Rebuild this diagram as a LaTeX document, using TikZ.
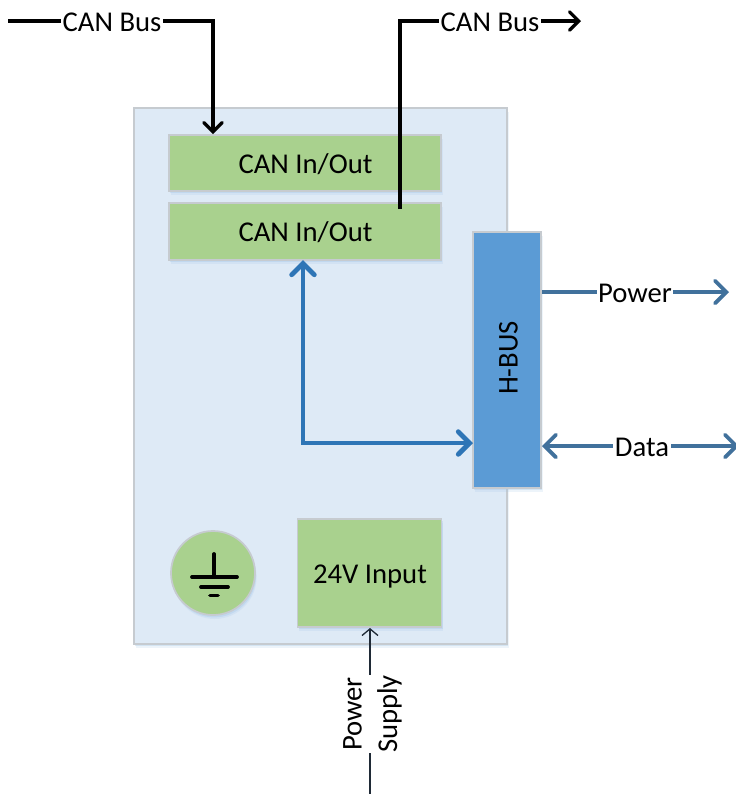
\documentclass[tikz,border=0pt]{standalone}
\usepackage{fontspec}
\setmainfont{Carlito}
\usetikzlibrary{arrows.meta,shadows,calc}
\definecolor{panelfill}{HTML}{DEEAF6}
\definecolor{edgegrey}{HTML}{C6CBD0}
\definecolor{greenfill}{HTML}{A9D18E}
\definecolor{busfill}{HTML}{5B9BD5}
\definecolor{shadowblue}{HTML}{9DC3E6}
\definecolor{linkblue}{HTML}{2E75B6}
\definecolor{outblue}{HTML}{41719C}
\definecolor{thinink}{HTML}{1F2A36}
\tikzset{
  x=0.75pt,y=-0.75pt,
  softshadow/.style={
    drop shadow={shadow xshift=1.2pt,shadow yshift=-3pt,fill=shadowblue,opacity=.18},
    drop shadow={shadow xshift=0.8pt,shadow yshift=-1.8pt,fill=shadowblue,opacity=.3}},
  boxbase/.style={rectangle,draw=edgegrey,line width=1.3pt,inner sep=0pt,outer sep=0pt,anchor=north west,softshadow},
  panelbox/.style={boxbase,fill=panelfill,minimum width=279.75pt,minimum height=402pt},
  greenbox/.style={boxbase,fill=greenfill,text=black,font=\mytext},
  busbox/.style={boxbase,fill=busfill,minimum width=51pt,minimum height=192pt},
  lab/.style={fill=white,inner xsep=1.2pt,inner ysep=0pt,font=\mytext,text=black},
  blackline/.style={draw=black,line width=2.4pt,line join=miter},
  bluelink/.style={draw=linkblue,line width=3.6pt,line join=miter},
  outline/.style={draw=outblue,line width=2.9pt},
  thinline/.style={draw=thinink,line width=1pt},
  barbA/.style={-{Straight Barb[length=7pt,width=14pt,line cap=round]}},
  barbB/.style={{Straight Barb[length=8.5pt,width=17pt,line cap=round]}-{Straight Barb[length=8.5pt,width=17pt,line cap=round]}},
  barbC/.style={-{Straight Barb[length=8.5pt,width=17pt,line cap=round]}},
  barbD/.style={-{Straight Barb[length=5pt,width=12pt]}},
  groundline/.style={line width=2.8pt,line cap=round},
}
\newcommand{\mytext}{\fontsize{21.5pt}{26pt}\selectfont}
\begin{document}
\begin{tikzpicture}
\useasboundingbox (0,0) rectangle (736,794);
\fill[white] (0,0) rectangle (736,794);

% boxes
\node[panelbox] (panel) at (134,108) {};
\node[greenbox,minimum width=204pt,minimum height=42pt] (can1) at (169,135) {};
\node[font=\mytext] (can1t) at (305.5,164) {CAN In/Out};
\node[greenbox,minimum width=204pt,minimum height=42.75pt] (can2) at (169,203) {};
\node[font=\mytext] (can2t) at (305.5,232.5) {CAN In/Out};
\node[busbox] (hbus) at (473,232) {};
\node[font=\mytext,rotate=90] (hbust) at (508.5,358) {H-BUS};
\node[greenbox,minimum width=108pt,minimum height=81pt] (inp) at (297.5,519) {};
\node[font=\mytext] (inpt) at (370,576) {24V Input};
\node[circle,draw=edgegrey,line width=1.3pt,fill=greenfill,minimum size=63pt,inner sep=0pt,softshadow] (gnd) at (213,573) {};

% ground symbol
\coordinate (g0) at (214,554);
\coordinate (g1) at (214,577);
\draw[groundline] (g0) -- (g1);
\draw[groundline] (192,577) -- (237,577);
\draw[groundline] (201,587) -- (228,587);
\draw[groundline] (210,595.5) -- (218,595.5);

% CAN bus, left
\coordinate (canInStart) at (8,21);
\coordinate (canInCorner) at (213,21);
\coordinate (canInEnd) at (213,134);
\draw[blackline,barbA] (canInStart) -- (canInCorner) -- (canInEnd);
\node[lab] (canInLab) at (112,22) {CAN Bus};

% CAN bus, right
\coordinate (canOutStart) at (400,209);
\coordinate (canOutCorner) at (400,21);
\coordinate (canOutEnd) at (581,21);
\draw[blackline,barbA] (canOutStart) -- (canOutCorner) -- (canOutEnd);
\node[lab] (canOutLab) at (490,22) {CAN Bus};

% CAN to H-BUS
\coordinate (linkTop) at (303,260);
\coordinate (linkCorner) at (303,443);
\coordinate (linkEnd) at (473,443);
\draw[bluelink,barbB] (linkTop) -- (linkCorner) -- (linkEnd);

% Power and Data
\coordinate (pwrStart) at (542,292);
\coordinate (pwrEnd) at (729,292);
\draw[outline,barbC] (pwrStart) -- (pwrEnd);
\node[lab] (pwrLab) at (635,293) {Power};
\coordinate (dataStart) at (542,446);
\coordinate (dataEnd) at (739,446);
\draw[outline,barbB] (dataStart) -- (dataEnd);
\node[lab] (dataLab) at (642,447) {Data};

% Power supply
\coordinate (psEnd) at (370,628);
\coordinate (psStart) at (370,794);
\draw[thinline,barbD] (psStart) -- (psEnd);
\node[fill=white,inner sep=0pt,rotate=90,align=center,font=\fontsize{21.5pt}{26.5pt}\selectfont] (psLab) at (372.5,714) {Power\\Supply};
\end{tikzpicture}
\end{document}
